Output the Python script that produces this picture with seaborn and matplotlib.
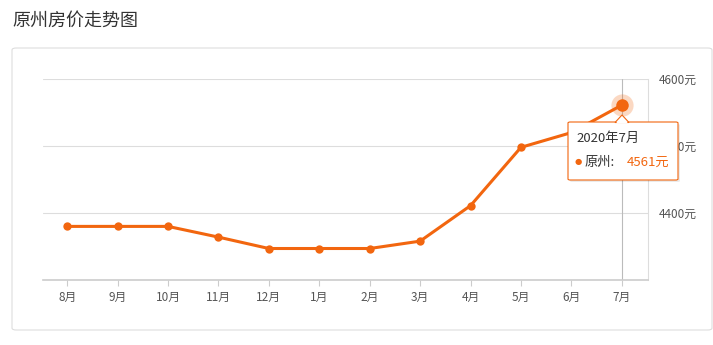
import matplotlib
matplotlib.use("Agg")
import matplotlib.pyplot as plt
import seaborn as sns
import pandas as pd
from matplotlib.patches import FancyBboxPatch, Polygon

months = ["8月", "9月", "10月", "11月", "12月", "1月", "2月", "3月", "4月", "5月", "6月", "7月"]
prices = [4380, 4380, 4380, 4364, 4347, 4347, 4347, 4358, 4411, 4498, 4520, 4561]
ytick_vals = [4400, 4500, 4600]
ytick_labels = ["4400元", "4500元", "4600元"]
title = "原州房价走势图"
tip_title = "2020年7月"
tip_series = "原州:"
tip_value = "4561元"

sns.set_theme(style="white")
plt.rcParams['font.family'] = ['Noto Sans CJK SC', 'DejaVu Sans']

W, H = 713, 345
fig = plt.figure(figsize=(W / 100, H / 100), dpi=100)

def fx(px):
    return px / W

def fy(py):
    return 1 - py / H

# outer frame
frame = FancyBboxPatch((fx(12), fy(330)), fx(712) - fx(12), fy(48) - fy(330),
                       boxstyle="round,pad=0,rounding_size=0.006",
                       transform=fig.transFigure, facecolor="none",
                       edgecolor="#dddddd", linewidth=0.8, zorder=-1)
fig.patches.append(frame)

fig.text(fx(12), fy(21), title, fontsize=13, color="#333333", va="center", ha="left")

ax = fig.add_axes([fx(43), fy(280), fx(648) - fx(43), fy(79) - fy(280)])
ax.set_facecolor("none")
ax.set_zorder(1)

df = pd.DataFrame({"pos": list(range(len(months))), "price": prices})
color = "#F2660F"
sns.lineplot(data=df, x="pos", y="price", ax=ax, color=color, linewidth=2.2,
             marker="o", markersize=6, markeredgewidth=0, zorder=3)

ax.set_xlim(-0.48, 11.52)
ax.set_ylim(4300, 4600)
ax.set_xticks(range(len(months)))
ax.set_xticklabels(months, fontsize=8.5, color="#555555")
ax.set_yticks(ytick_vals)
ax.yaxis.tick_right()
ax.set_yticklabels(ytick_labels, fontsize=8.5, color="#555555")
ax.tick_params(axis="y", length=0, pad=8)
ax.tick_params(axis="x", length=4, width=0.8, color="#cccccc", bottom=True, pad=4)
ax.set_xlabel("")
ax.set_ylabel("")
for yv in ytick_vals:
    ax.axhline(yv, color="#dddddd", linewidth=0.8, zorder=1)
for s in ["left", "top"]:
    ax.spines[s].set_visible(False)
ax.spines["right"].set_color("#dddddd")
ax.spines["right"].set_linewidth(0.8)
ax.spines["bottom"].set_color("#cccccc")
ax.spines["bottom"].set_linewidth(1.2)

# hover crosshair at last point
last = len(months) - 1
ax.axvline(last, color="#bbbbbb", linewidth=0.8, zorder=2)
ax.plot([last], [prices[-1]], "o", color=color, alpha=0.25, markersize=16, markeredgewidth=0, zorder=4)
ax.plot([last], [prices[-1]], "o", color=color, markersize=9, markeredgewidth=0, zorder=5)

# tooltip box
tx0, ty0, tx1, ty1 = 568, 122, 678, 180
shadow = FancyBboxPatch((fx(tx0 + 2), fy(ty1 + 2)), fx(tx1) - fx(tx0), fy(ty0) - fy(ty1),
                        boxstyle="round,pad=0,rounding_size=0.003", transform=fig.transFigure,
                        facecolor="#000000", alpha=0.08, edgecolor="none", zorder=9)
fig.patches.append(shadow)
box = FancyBboxPatch((fx(tx0), fy(ty1)), fx(tx1) - fx(tx0), fy(ty0) - fy(ty1),
                     boxstyle="round,pad=0,rounding_size=0.003", transform=fig.transFigure,
                     facecolor="white", edgecolor=color, linewidth=0.8, zorder=10)
fig.patches.append(box)
tri = Polygon([(fx(615), fy(ty0 + 0.5)), (fx(622), fy(ty0 - 7)), (fx(629), fy(ty0 + 0.5))],
              closed=True, transform=fig.transFigure, facecolor="white",
              edgecolor=color, linewidth=0.8, zorder=11)
fig.patches.append(tri)
fig.patches.append(Polygon([(fx(616), fy(ty0 + 1.2)), (fx(628), fy(ty0 + 1.2)), (fx(622), fy(ty0 - 5))],
                           closed=True, transform=fig.transFigure, facecolor="white",
                           edgecolor="none", zorder=12))
fig.text(fx(576), fy(138), tip_title, fontsize=9.5, color="#333333", va="center", ha="left", zorder=13)
fig.text(fx(575), fy(162), "●", fontsize=6, color=color, va="center", ha="left", zorder=13,
         family=['DejaVu Sans'])
fig.text(fx(585), fy(162), tip_series, fontsize=9.5, color="#333333", va="center", ha="left", zorder=13)
fig.text(fx(627), fy(162), tip_value, fontsize=9.5, color=color, va="center", ha="left", zorder=13)

fig.savefig("out.png", dpi=100)
